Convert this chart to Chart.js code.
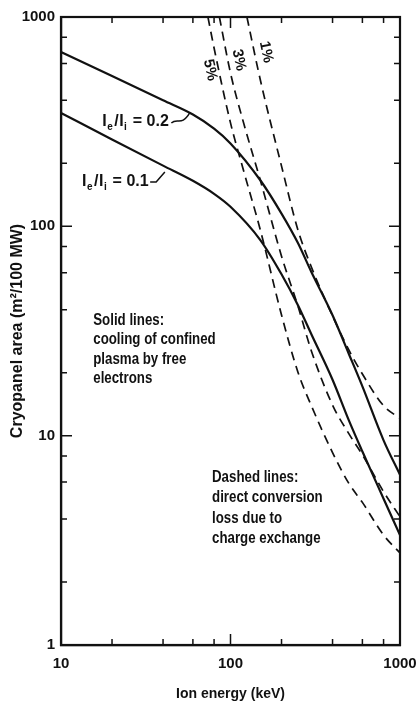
<!DOCTYPE html>
<html>
<head>
<meta charset="utf-8">
<title>Cryopanel area vs ion energy</title>
<script src="https://cdn.jsdelivr.net/npm/chart.js@4.4.1/dist/chart.umd.min.js"></script>
<style>
  html, body { margin: 0; padding: 0; background: #fff; }
  #wrap { width: 417px; height: 703px; }
</style>
</head>
<body>
<div id="wrap"><canvas id="chart" width="417" height="703"></canvas></div>
<script>
// ── Data ─────────────────────────────────────────────────
// solid lines: cooling of confined plasma by free electrons
const ENERGY = [10, 20, 40, 60, 80, 100, 150, 200, 250, 300, 400, 500, 600, 800, 1000];
const AREA_RATIO_02 = [680, 522, 400, 342, 293, 249, 166, 115, 83.2, 60.5, 37.6, 24.5, 17.2, 9.5, 6.5];
const AREA_RATIO_01 = [348, 260, 195, 165, 143, 124, 86, 59, 42, 30.5, 18.5, 11.8, 8.4, 5.0, 3.35];

// dashed lines: direct conversion loss due to charge exchange
const ENERGY_CX5 = [73.6, 80, 100, 120, 150, 200, 250, 300, 400, 500, 600, 800, 1000];
const AREA_CX5 = [1000, 711, 312, 182, 96, 37.7, 20.1, 13.9, 8.3, 5.9, 4.8, 3.35, 2.75];
const ENERGY_CX3 = [86, 100, 120, 150, 200, 250, 300, 400, 500, 600, 800, 1000];
const AREA_CX3 = [1000, 540, 308, 166, 72, 41.6, 25.4, 14.0, 10.2, 8.1, 5.4, 4.1];
const ENERGY_CX1 = [125, 150, 200, 250, 300, 400, 500, 600, 800, 1000];
const AREA_CX1 = [1000, 500, 194, 96, 63.9, 37.3, 25.6, 19.7, 13.9, 12.1];

// axes
const X_TICKS = [10, 20, 40, 60, 80, 100, 200, 400, 600, 800, 1000];
const X_LABELS = [10, 100, 1000];
const Y_TICKS = [1, 2, 4, 6, 8, 10, 20, 40, 60, 80, 100, 200, 400, 600, 800, 1000];
const Y_LABELS = [1, 10, 100, 1000];

const INK = '#111';
const FONT = '"Liberation Sans", Arial, sans-serif';

Chart.defaults.font.family = FONT;
Chart.defaults.color = INK;

const pts = (xs, ys) => xs.map((x, i) => ({ x, y: ys[i] }));

function solidLine(label, xs, ys) {
    return {
        label, data: pts(xs, ys),
        borderColor: INK, borderWidth: 2.2,
        pointRadius: 0, fill: false,
        cubicInterpolationMode: 'monotone',
    };
}

function dashedLine(label, xs, ys) {
    return {
        label, data: pts(xs, ys),
        borderColor: INK, borderWidth: 1.7, borderDash: [9, 6],
        pointRadius: 0, fill: false,
        cubicInterpolationMode: 'monotone',
    };
}

// ── Helpers for the drawn notes ──────────────────────────
function squeezeText(ctx, str, x, y, sx) {
    ctx.save();
    ctx.translate(x, y);
    ctx.scale(sx, 1);
    ctx.fillText(str, 0, 0);
    ctx.restore();
}

// "I_e/I_i = 0.x" with lowered subscripts, returns end x
function ratioLabel(ctx, x, y, value) {
    const big = 'bold 16px ' + FONT, small = 'bold 10px ' + FONT;
    const parts = [['I', big, 0], ['e', small, 5], ['/', big, 0], ['I', big, 0], ['i', small, 5], [' = ' + value, big, 0]];
    let cx = x;
    parts.forEach(([t, f, dy]) => {
        ctx.font = f;
        ctx.fillText(t, cx, y + dy);
        cx += ctx.measureText(t).width + (dy ? 1.5 : 0.5);
    });
    return cx;
}

// ── Plugin: inward ticks, frame and notes ────────────────
const figureDecor = {
    id: 'figureDecor',
    afterDraw(chart) {
        const { ctx, chartArea: a, scales: { x, y } } = chart;
        const px = v => x.getPixelForValue(v);
        const py = v => y.getPixelForValue(v);

        ctx.save();
        ctx.strokeStyle = INK;
        ctx.fillStyle = INK;

        // inward tick marks on all four sides
        ctx.lineWidth = 1.5;
        ctx.beginPath();
        X_TICKS.forEach(v => {
            const p = px(v), len = X_LABELS.includes(v) ? 11 : 6;
            ctx.moveTo(p, a.bottom); ctx.lineTo(p, a.bottom - len);
            ctx.moveTo(p, a.top);    ctx.lineTo(p, a.top + len);
        });
        Y_TICKS.forEach(v => {
            const p = py(v), len = Y_LABELS.includes(v) ? 11 : 6;
            ctx.moveTo(a.left, p);  ctx.lineTo(a.left + len, p);
            ctx.moveTo(a.right, p); ctx.lineTo(a.right - len, p);
        });
        ctx.stroke();

        ctx.lineWidth = 2.2;
        ctx.strokeRect(a.left, a.top, a.width, a.height);

        // percentage labels along the dashed lines
        ctx.font = 'bold 15px ' + FONT;
        ctx.textAlign = 'center';
        ctx.textBaseline = 'middle';
        [['5%', 75.7, 558], ['3%', 112, 623], ['1%', 162, 680]].forEach(([t, e, v]) => {
            ctx.save();
            ctx.translate(px(e), py(v));
            ctx.rotate(78 * Math.PI / 180);
            ctx.fillText(t, 0, 0);
            ctx.restore();
        });

        // ratio labels with leaders
        ctx.textAlign = 'left';
        ctx.lineWidth = 1.5;
        let end = ratioLabel(ctx, px(17.5), py(315), '0.2');
        ctx.beginPath();
        ctx.moveTo(end + 2, py(315) + 1);
        ctx.bezierCurveTo(end + 8, py(315) - 5, end + 12, py(315) + 5, px(57.7), py(350));
        ctx.stroke();

        end = ratioLabel(ctx, px(13.3), py(163), '0.1');
        ctx.beginPath();
        ctx.moveTo(end + 1, py(163));
        ctx.lineTo(end + 7, py(163));
        ctx.lineTo(px(41), py(182));
        ctx.stroke();

        // explanatory notes
        ctx.font = 'bold 16px ' + FONT;
        const solidNote = ['Solid lines:', 'cooling of confined', 'plasma by free', 'electrons'];
        solidNote.forEach((t, i) => squeezeText(ctx, t, px(15.5), py(35.6) + i * 19.5, 0.83));
        const dashedNote = ['Dashed lines:', 'direct conversion', 'loss due to', 'charge exchange'];
        dashedNote.forEach((t, i) => squeezeText(ctx, t, px(77.8), py(6.34) + i * 20.5, 0.83));

        ctx.restore();
    },
};

// ── Chart ────────────────────────────────────────────────
new Chart(document.getElementById('chart'), {
    type: 'line',
    data: {
        datasets: [
            solidLine('Ie/Ii = 0.2', ENERGY, AREA_RATIO_02),
            solidLine('Ie/Ii = 0.1', ENERGY, AREA_RATIO_01),
            dashedLine('5%', ENERGY_CX5, AREA_CX5),
            dashedLine('3%', ENERGY_CX3, AREA_CX3),
            dashedLine('1%', ENERGY_CX1, AREA_CX1),
        ],
    },
    options: {
        responsive: false,
        devicePixelRatio: 1,
        animation: false,
        layout: { padding: { top: 17, right: 17, left: 0, bottom: 0 } },
        plugins: { legend: { display: false }, tooltip: { enabled: false } },
        scales: {
            x: {
                type: 'logarithmic', min: 10, max: 1000,
                afterBuildTicks: s => { s.ticks = X_TICKS.map(v => ({ value: v })); },
                afterFit: s => { s.height = 58; s.paddingLeft = 0; s.paddingRight = 0; },
                grid: { display: false, drawTicks: false },
                border: { display: true, color: INK, width: 2.2 },
                ticks: {
                    autoSkip: false, maxRotation: 0, padding: 10,
                    color: INK, font: { size: 15, weight: 'bold' },
                    callback: v => X_LABELS.includes(v) ? String(v) : '',
                },
                title: {
                    display: true, text: 'Ion energy (keV)', color: INK,
                    font: { size: 14, weight: 'bold' }, padding: { top: 0, bottom: 0 },
                },
            },
            y: {
                type: 'logarithmic', min: 1, max: 1000,
                afterBuildTicks: s => { s.ticks = Y_TICKS.map(v => ({ value: v })); },
                afterFit: s => { s.width = 61; s.paddingTop = 0; s.paddingBottom = 0; },
                grid: { display: false, drawTicks: false },
                border: { display: true, color: INK, width: 2.2 },
                ticks: {
                    autoSkip: false, padding: 6,
                    color: INK, font: { size: 15, weight: 'bold' },
                    callback: v => Y_LABELS.includes(v) ? String(v) : '',
                },
                title: {
                    display: true, text: 'Cryopanel area (m²/100 MW)', color: INK,
                    font: { size: 16, weight: 'bold' }, padding: { top: 8, bottom: 0 },
                },
            },
        },
    },
    plugins: [figureDecor],
});
</script>
</body>
</html>
